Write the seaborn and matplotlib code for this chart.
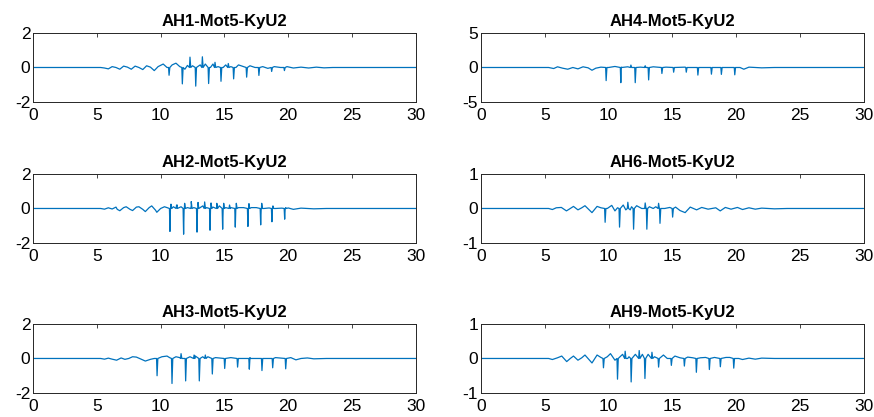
import numpy as np
import pandas as pd
import matplotlib
matplotlib.use("Agg")
import matplotlib.pyplot as plt
import seaborn as sns

# ---- channel traces: slow background breakpoints + sharp impulse peaks ----
ah1_bg_t = [0, 5.3, 5.6, 5.9, 6.2, 6.5, 6.8, 7.1, 7.4, 7.7, 8.0, 8.3, 8.6, 8.9, 9.2, 9.5, 9.8,
            10.2, 10.5, 10.9, 11.2, 11.5, 11.9, 12.1, 12.5, 12.9, 13.1, 13.5, 13.9, 14.1, 14.5,
            14.9, 15.1, 15.5, 15.9, 16.1, 16.5, 17.0, 17.4, 18.0, 18.4, 18.9, 19.4, 19.9, 20.4,
            21.0, 21.6, 22.2, 22.8, 23.5, 30]
ah1_bg_v = [0, 0, -0.03, -0.08, 0.05, 0.0, -0.1, 0.08, 0.02, -0.1, 0.08, 0.0, -0.12, 0.1, 0.02,
            -0.18, 0.05, 0.2, 0.0, 0.15, 0.25, 0.05, -0.1, 0.12, 0.1, 0.05, 0.15, 0.2, 0.0, 0.2,
            0.05, 0.0, 0.15, 0.05, 0.0, 0.15, 0.05, 0.1, 0.0, 0.05, -0.05, 0.05, 0.0, 0.05, -0.03,
            0.02, -0.03, 0.02, -0.02, 0.0, 0]
ah1_spk_t = [10.66, 11.7, 12.3, 12.75, 13.27, 13.76, 14.26, 14.73, 15.3, 15.72, 16.74, 17.7, 18.7, 19.7]
ah1_spk_v = [-0.45, -0.95, 0.6, -1.08, 0.62, -0.93, 0.3, -0.8, 0.23, -0.66, -0.56, -0.46, -0.23, -0.18]

ah2_bg_t = [0, 5.3, 5.6, 5.9, 6.2, 6.5, 6.6, 6.8, 7.1, 7.3, 7.6, 7.8, 8.1, 8.3, 8.6, 8.8, 9.1, 9.3,
            9.6, 9.7, 10.0, 10.3, 10.5, 11.0, 11.3, 11.6, 12.1, 12.4, 12.6, 13.1, 13.3, 13.6, 14.1,
            14.4, 14.6, 15.1, 15.5, 16.1, 16.5, 17.1, 17.5, 18.1, 18.5, 19.0, 19.5, 20.0, 20.4,
            21.0, 22.0, 23.0, 30]
ah2_bg_v = [0, 0, -0.04, 0.04, -0.03, 0.08, -0.05, -0.13, 0.05, 0.1, -0.05, -0.12, 0.08, 0.1,
            -0.05, -0.18, 0.05, 0.15, -0.1, -0.22, 0.0, 0.1, 0.05, 0.1, 0.2, 0.1, 0.05, 0.15, 0.05,
            0.05, 0.15, 0.05, 0.08, 0.05, 0.15, 0.05, 0.05, 0.05, 0.05, 0.05, 0.05, 0.0, 0.03, 0.0,
            0.02, 0.03, -0.05, 0.02, -0.02, 0.0, 0]
ah2_spk_t = [10.73, 10.81, 11.25, 11.8, 11.88, 12.4, 12.85, 12.93, 13.45, 13.87, 13.95, 14.4,
             14.86, 14.94, 15.4, 15.85, 15.93, 16.84, 16.92, 17.84, 17.92, 18.72, 18.8, 19.72, 19.8]
ah2_spk_v = [-1.33, 0.25, 0.2, -1.49, 0.3, 0.4, -1.37, 0.35, 0.38, -1.26, 0.32, 0.3,
             -1.2, 0.3, 0.2, -1.08, 0.3, -1.04, 0.28, -0.95, 0.3, -0.77, 0.15, -0.62, 0.05]

ah3_bg_t = [0, 5.3, 5.6, 5.9, 6.2, 6.55, 6.9, 7.2, 7.5, 7.8, 8.1, 8.5, 8.8, 9.2, 9.5, 10.1, 10.5,
            10.7, 11.2, 11.5, 12.3, 12.7, 13.3, 13.7, 14.3, 15.5, 17.0, 19.0, 20.2, 20.6, 21.0,
            21.5, 22.0, 23.0, 30]
ah3_bg_v = [0, 0, -0.04, 0.02, -0.04, -0.1, 0.03, -0.05, 0.0, 0.1, 0.08, -0.05, -0.15, -0.05,
            0.0, 0.1, 0.14, 0.05, 0.1, 0.05, 0.1, 0.15, 0.1, 0.1, 0.05, 0.05, 0.05, 0.05, 0.05,
            -0.08, 0.0, 0.03, -0.02, 0.0, 0]
ah3_spk_t = [9.72, 10.89, 11.6, 11.96, 12.62, 13.03, 13.5, 14.05, 15.02, 16.03, 16.95, 17.94, 18.78, 19.8]
ah3_spk_v = [-1.0, -1.45, 0.28, -1.3, 0.2, -1.3, 0.2, -0.9, -0.58, -0.5, -0.62, -0.7, -0.54, -0.6]

ah4_bg_t = [0, 5.3, 5.7, 6.0, 6.4, 6.8, 7.2, 7.6, 8.0, 8.4, 8.7, 9.0, 9.4, 10.0, 10.5, 11.0, 11.5,
            12.5, 13.5, 14.5, 16.0, 18.0, 20.3, 20.6, 21.0, 22.0, 23.0, 30]
ah4_bg_v = [0, 0, -0.15, 0.1, -0.1, -0.25, 0.0, -0.2, 0.1, -0.05, -0.4, -0.1, 0.05, 0.0, 0.15,
            0.05, 0.1, 0.05, 0.1, 0.05, 0.05, 0.0, 0.0, -0.25, 0.05, -0.05, 0.0, 0]
ah4_spk_t = [9.81, 10.96, 11.75, 12.09, 12.87, 13.14, 14.18, 15.1, 16.09, 17.0, 18.06, 18.84, 19.89]
ah4_spk_v = [-1.9, -2.2, 0.35, -2.2, 0.25, -1.8, -0.87, -0.68, -0.68, -1.1, -0.97, -1.0, -1.06]

ah6_bg_t = [0, 5.3, 5.6, 5.9, 6.3, 6.7, 7.0, 7.25, 7.6, 7.9, 8.15, 8.7, 9.1, 9.4, 9.9, 10.25, 10.5,
            10.7, 11.15, 11.35, 11.7, 11.8, 12.2, 12.6, 13.2, 13.5, 13.7, 14.4, 14.8, 15.25, 15.6,
            16.0, 16.4, 16.9, 17.3, 17.8, 18.4, 18.75, 19.15, 19.6, 20.1, 20.5, 21.0, 21.5, 22.0,
            23.0, 24.0, 30]
ah6_bg_v = [0, 0, -0.03, 0.02, 0.03, -0.07, 0.0, 0.06, -0.04, 0.02, 0.08, -0.12, 0.06, 0.02, 0.0,
            0.09, -0.07, 0.02, 0.1, -0.04, -0.04, 0.05, 0.08, 0.0, 0.05, 0.0, 0.05, 0.0, 0.03, 0.04,
            -0.06, -0.12, 0.04, -0.04, 0.03, -0.02, 0.02, -0.07, 0.03, -0.02, 0.03, -0.03, 0.02,
            -0.02, 0.01, -0.01, 0.0, 0]
ah6_spk_t = [9.73, 10.86, 11.51, 11.96, 12.87, 13.0, 13.92, 14.03, 15.02]
ah6_spk_v = [-0.4, -0.54, 0.18, -0.6, 0.16, -0.6, 0.15, -0.43, -0.25]

ah9_bg_t = [0, 5.3, 5.6, 6.0, 6.33, 6.72, 7.0, 7.25, 7.6, 7.9, 8.15, 8.7, 9.1, 9.4, 9.9, 10.15,
            10.5, 10.9, 11.1, 11.5, 11.6, 12.1, 12.65, 13.1, 13.6, 14.3, 14.6, 15.2, 15.6, 16.2,
            16.6, 17.2, 17.6, 18.3, 19.2, 19.5, 20.2, 20.5, 21.0, 21.5, 22.0, 23.0, 30]
ah9_bg_v = [0, 0, -0.03, 0.02, 0.07, -0.09, 0.0, 0.07, -0.05, 0.02, 0.1, -0.13, 0.1, 0.03, 0.05,
            0.14, -0.05, 0.05, 0.12, 0.0, 0.05, 0.12, 0.12, 0.12, 0.05, 0.1, 0.0, 0.07, 0.02, 0.04,
            0.02, 0.02, 0.03, 0.03, 0.03, 0.03, 0.0, -0.03, 0.01, -0.02, 0.01, 0.0, 0]
ah9_spk_t = [9.6, 10.7, 11.3, 11.77, 12.4, 12.85, 13.4, 13.92, 14.92, 15.94, 16.88, 17.9, 18.76, 19.81]
ah9_spk_v = [-0.27, -0.6, 0.21, -0.68, 0.23, -0.58, 0.18, -0.25, -0.2, -0.22, -0.4, -0.32, -0.24, -0.28]

titles = ["AH1-Mot5-KyU2", "AH4-Mot5-KyU2",
          "AH2-Mot5-KyU2", "AH6-Mot5-KyU2",
          "AH3-Mot5-KyU2", "AH9-Mot5-KyU2"]
y_limits = [2, 5, 2, 1, 2, 1]
x_ticks = [0, 5, 10, 15, 20, 25, 30]

panels = [
    (ah1_bg_t, ah1_bg_v, ah1_spk_t, ah1_spk_v),
    (ah4_bg_t, ah4_bg_v, ah4_spk_t, ah4_spk_v),
    (ah2_bg_t, ah2_bg_v, ah2_spk_t, ah2_spk_v),
    (ah6_bg_t, ah6_bg_v, ah6_spk_t, ah6_spk_v),
    (ah3_bg_t, ah3_bg_v, ah3_spk_t, ah3_spk_v),
    (ah9_bg_t, ah9_bg_v, ah9_spk_t, ah9_spk_v),
]


def build_trace(bg_t, bg_v, spk_t, spk_v):
    """Merge background breakpoints with narrow impulses (rise/fall to zero)."""
    t = list(bg_t)
    v = list(bg_v)
    for ts, vs in zip(spk_t, spk_v):
        t += [ts - 0.04, ts, ts + 0.06]
        v += [0.0, vs, 0.0]
    df = pd.DataFrame({"t": t, "v": v}).sort_values("t", kind="stable")
    return df.reset_index(drop=True)


sns.set_theme(style="white")
plt.rcParams["font.family"] = ["Liberation Sans", "DejaVu Sans"]
plt.rcParams.update({
    "xtick.direction": "in", "ytick.direction": "in",
    "xtick.top": True, "ytick.right": True,
    "xtick.major.size": 3, "ytick.major.size": 3,
    "xtick.major.width": 0.6, "ytick.major.width": 0.6,
    "xtick.color": "#262626", "ytick.color": "#262626",
    "axes.edgecolor": "#262626", "axes.linewidth": 0.7,
})

fig = plt.figure(figsize=(8.74, 4.17), dpi=100)
lefts = [0.0378, 0.5503]
bottoms = [0.7554, 0.4173, 0.0576]
w, h = 0.438, 0.1655

line_color = "#0072BD"
for i, (spec, title, ylim) in enumerate(zip(panels, titles, y_limits)):
    row, col = divmod(i, 2)
    ax = fig.add_axes([lefts[col], bottoms[row], w, h])
    df = build_trace(*spec)
    sns.lineplot(data=df, x="t", y="v", ax=ax, color=line_color, linewidth=0.9,
                 estimator=None, errorbar=None)
    ax.set_xlim(0, 30)
    ax.set_ylim(-ylim, ylim)
    ax.set_xticks(x_ticks)
    ax.set_yticks([-ylim, 0, ylim])
    ax.set_xticklabels([str(x) for x in x_ticks])
    ax.set_yticklabels([str(-ylim), "0", str(ylim)])
    ax.tick_params(axis="both", labelsize=12.5, labelcolor="black")
    ax.tick_params(axis="y", pad=2)
    ax.tick_params(axis="x", pad=4)
    ax.set_xlabel("")
    ax.set_ylabel("")
    ax.set_title(title, fontsize=12, fontweight="bold", pad=5, color="black")
    for s in ax.spines.values():
        s.set_visible(True)

fig.savefig("out.png", dpi=100)
